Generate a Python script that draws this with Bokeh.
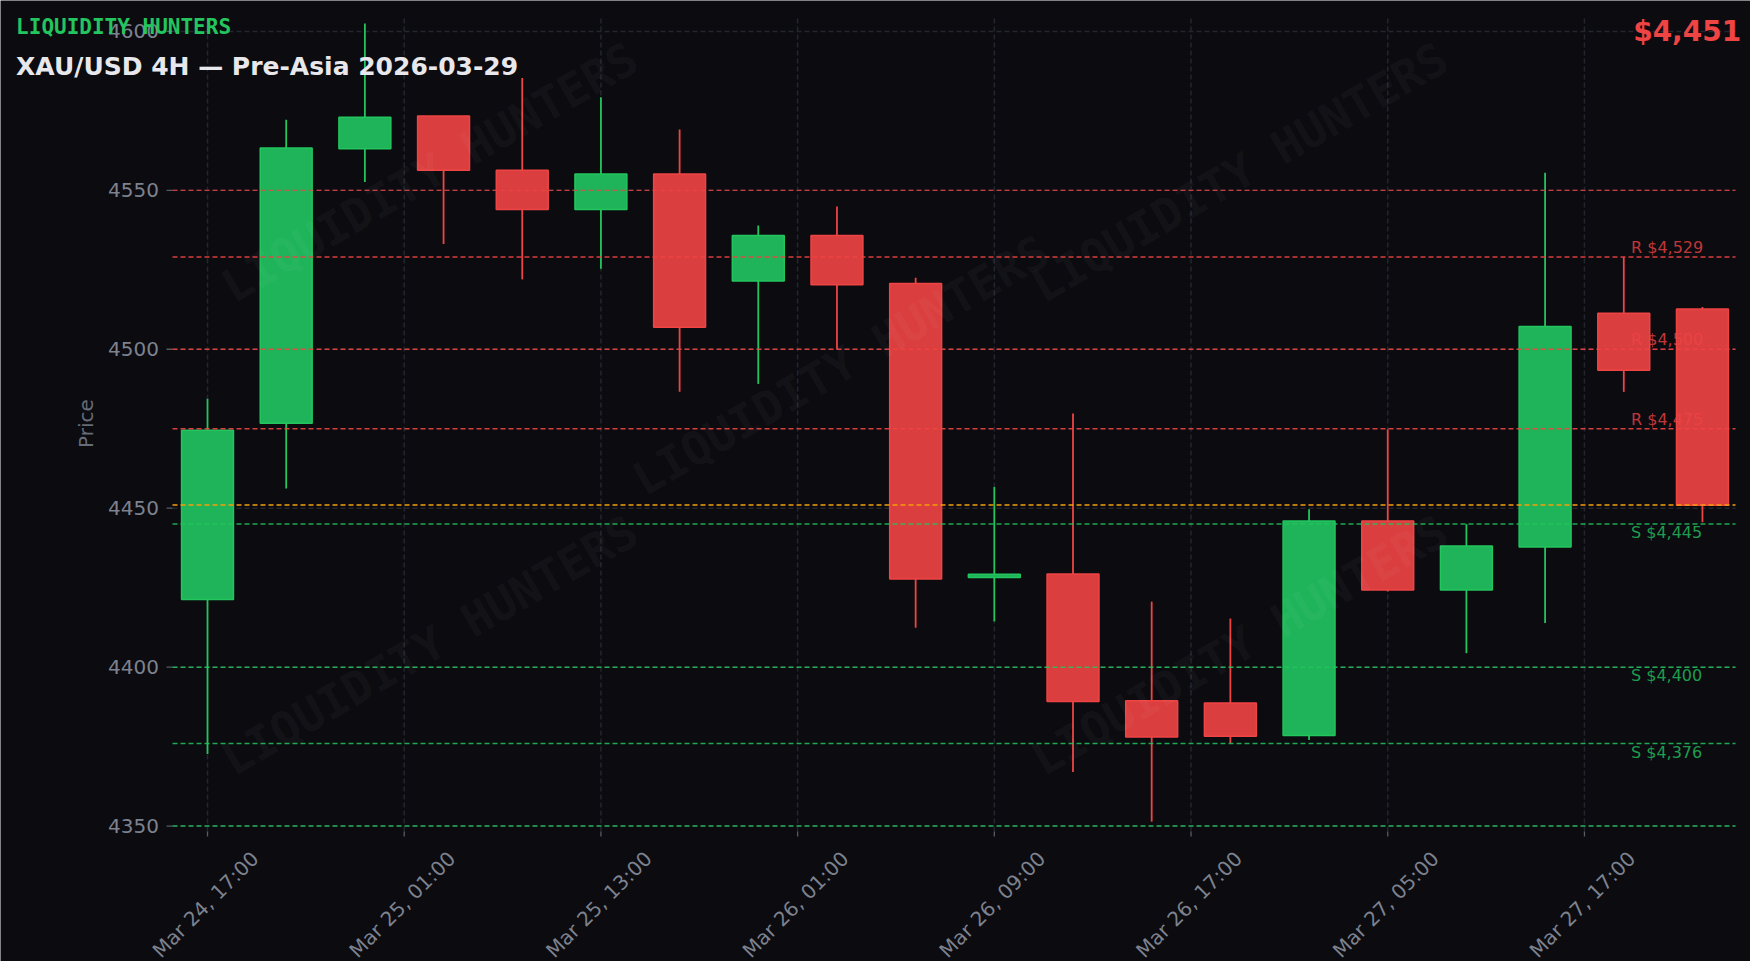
import math
from bokeh.plotting import figure
from bokeh.models import Range1d, ColumnDataSource
from bokeh.core.properties import value
from bokeh.embed import file_html
from bokeh.resources import INLINE

# ---------------- data ----------------
opens  = [4421.3, 4476.7, 4563.1, 4573.4, 4556.3, 4544.0, 4555.1, 4521.5, 4535.8, 4520.7,
          4428.2, 4429.3, 4389.4, 4388.7, 4378.5, 4446.0, 4424.3, 4437.8, 4511.3, 4512.7]
highs  = [4484.4, 4572.2, 4602.5, 4573.4, 4585.3, 4579.3, 4569.1, 4538.9, 4544.9, 4522.5,
          4456.7, 4479.8, 4420.6, 4415.3, 4449.7, 4474.8, 4445.0, 4555.5, 4529.0, 4513.3]
lows   = [4372.7, 4456.2, 4552.6, 4533.1, 4522.0, 4525.3, 4486.6, 4489.1, 4500.0, 4412.4,
          4414.4, 4367.0, 4351.4, 4376.1, 4377.1, 4423.8, 4404.4, 4413.9, 4486.6, 4445.6]
closes = [4474.5, 4563.3, 4573.0, 4556.3, 4544.0, 4555.1, 4506.9, 4535.8, 4520.3, 4427.7,
          4429.2, 4389.2, 4378.0, 4378.3, 4446.0, 4424.3, 4438.1, 4507.2, 4493.4, 4450.9]

tick_pos = [0, 2.5, 5, 7.5, 10, 12.5, 15, 17.5]
tick_labels = ["Mar 24, 17:00", "Mar 25, 01:00", "Mar 25, 13:00", "Mar 26, 01:00",
               "Mar 26, 09:00", "Mar 26, 17:00", "Mar 27, 05:00", "Mar 27, 17:00"]
ytick_vals = [4350, 4400, 4450, 4500, 4550, 4600]

resistance_levels = [4529, 4500, 4475]
support_levels = [4445, 4400, 4376]
range_high = [4550]
range_low = [4350]
current_price = 4451

title_brand = "LIQUIDITY HUNTERS"
title_main = "XAU/USD 4H \u2014 Pre-Asia 2026-03-29"
price_text = "$4,451"
y_label = "Price"

# ---------------- geometry ----------------
W, H = 1750, 961
X_LO, X_HI = -0.445, 19.42          # data extent of the plot area
Y_LO, Y_HI = 4348.3, 4605.0
PX0, PX1, PY0, PY1 = 172.0, 1735.0, 15.0, 831.0   # plot area in canvas px
UPP = (Y_HI - Y_LO) / (PY1 - PY0)   # price units per pixel


def px_x(cx):
    return X_LO + (cx - PX0) * (X_HI - X_LO) / (PX1 - PX0)


def px_y(cy):
    return Y_HI - (cy - PY0) * UPP


BG = "#0b0b10"
GREEN = "#22c55e"
GREEN_FILL = "#20b45a"
RED = "#ef4444"
RED_FILL = "#da3e3f"
ORANGE = "#f59e0b"
TICK_TXT = "#7d828e"
TICK_LINE = "#565b66"
GRID = "#24262f"
DASH = "5 3"

p = figure(width=W, height=H,
           x_range=Range1d(px_x(0), px_x(W)), y_range=Range1d(px_y(H), px_y(0)),
           x_axis_location=None, y_axis_location=None,
           output_backend="svg", toolbar_location=None,
           background_fill_color=BG, border_fill_color=BG,
           min_border=0)
p.outline_line_color = None
p.grid.visible = False

# ---- grid (dashed) ----
p.segment(x0=tick_pos, y0=[Y_LO] * len(tick_pos), x1=tick_pos, y1=[Y_HI] * len(tick_pos),
          line_color=GRID, line_dash=DASH, line_width=1.5)
p.segment(x0=[X_LO] * len(ytick_vals), y0=ytick_vals, x1=[X_HI] * len(ytick_vals), y1=ytick_vals,
          line_color=GRID, line_dash=DASH, line_width=1.5)

# ---- y axis: ticks, labels, title ----
p.segment(x0=[px_x(166)] * len(ytick_vals), y0=ytick_vals, x1=[X_LO] * len(ytick_vals), y1=ytick_vals,
          line_color=TICK_LINE, line_width=1.3)
p.text(x=[px_x(158.5)] * len(ytick_vals), y=ytick_vals, text=[str(v) for v in ytick_vals],
       text_align="right", text_baseline="middle", text_font=value("DejaVu Sans"),
       text_font_size="20px", text_color=TICK_TXT)
p.text(x=[px_x(85.5)], y=[(Y_LO + Y_HI) / 2], text=[y_label], angle=math.pi / 2,
       text_align="center", text_baseline="middle", text_font=value("DejaVu Sans"),
       text_font_size="20px", text_color="#666b77")

# ---- x axis: ticks and rotated labels (centred under each tick) ----
p.segment(x0=tick_pos, y0=[Y_LO] * len(tick_pos), x1=tick_pos, y1=[px_y(836)] * len(tick_pos),
          line_color=TICK_LINE, line_width=1.3)
shift = (X_HI - X_LO) / (PX1 - PX0) * 2.0
p.text(x=[t - shift for t in tick_pos], y=[px_y(904)] * len(tick_pos), text=tick_labels,
       angle=math.pi / 4, text_align="center", text_baseline="middle",
       text_font=value("DejaVu Sans"), text_font_size="20px", text_color=TICK_TXT)

# ---- candles ----
idx = list(range(len(opens)))
up = [c >= o for o, c in zip(opens, closes)]
src = ColumnDataSource(dict(
    x=idx, high=highs, low=lows,
    top=[max(o, c) for o, c in zip(opens, closes)],
    bottom=[min(o, c) for o, c in zip(opens, closes)],
    color=[GREEN if u else RED for u in up],
    fill=[GREEN_FILL if u else RED_FILL for u in up],
))
p.segment(x0="x", y0="high", x1="x", y1="low", line_color="color", line_width=1.8, source=src)
p.vbar(x="x", width=0.66, top="top", bottom="bottom", fill_color="fill",
       line_color="color", line_width=1.5, source=src)

# ---- watermark ----
wm_px = [(429, 172), (840, 365), (1239, 172), (429, 645), (1239, 645)]
p.text(x=[px_x(a) for a, b in wm_px], y=[px_y(b) for a, b in wm_px],
       text=[title_brand] * len(wm_px), angle=math.pi / 6,
       text_font=value("DejaVu Sans Mono"), text_font_style="bold",
       text_font_size="46px", text_color="#ffffff", text_alpha=0.05,
       text_align="center", text_baseline="middle")


# ---- levels ----
def hlines(levels, color, alpha, width):
    n = len(levels)
    p.segment(x0=[X_LO] * n, y0=levels, x1=[X_HI] * n, y1=levels, line_color=color,
              line_alpha=alpha, line_dash=DASH, line_width=width)


hlines(range_high, RED, 0.8, 1.3)
hlines(range_low, GREEN, 0.85, 1.5)
hlines(resistance_levels, RED, 0.9, 1.5)
hlines(support_levels, GREEN, 0.85, 1.5)
hlines([current_price], ORANGE, 1.0, 1.5)

lab_x = px_x(1630.5)
r_off = UPP * 9.5
s_off = UPP * 8.7
p.text(x=[lab_x] * len(resistance_levels), y=[lv + r_off for lv in resistance_levels],
       text=[f"R ${lv:,}" for lv in resistance_levels], text_align="left",
       text_baseline="alphabetic", text_font=value("DejaVu Sans"), text_font_size="16px",
       text_color=RED, text_alpha=0.8)
p.text(x=[lab_x] * len(support_levels), y=[lv - s_off for lv in support_levels],
       text=[f"S ${lv:,}" for lv in support_levels], text_align="left",
       text_baseline="alphabetic", text_font=value("DejaVu Sans"), text_font_size="16px",
       text_color=GREEN, text_alpha=0.8)

# ---- titles ----
p.text(x=[px_x(15.6)], y=[px_y(26.6)], text=[title_brand], text_align="left",
       text_baseline="alphabetic", text_font=value("DejaVu Sans Mono"), text_font_style="bold",
       text_font_size="21px", text_color=GREEN)
p.text(x=[px_x(15.6)], y=[px_y(65.5)], text=[title_main], text_align="left",
       text_baseline="alphabetic", text_font=value("DejaVu Sans"), text_font_style="bold",
       text_font_size="25px", text_color="#e8e8ec")
p.text(x=[px_x(1740.7)], y=[px_y(30.5)], text=[price_text], text_align="right",
       text_baseline="alphabetic", text_font=value("DejaVu Sans"), text_font_style="bold",
       text_font_size="28px", text_color=RED)

open("out.html", "w").write(file_html(p, INLINE))
